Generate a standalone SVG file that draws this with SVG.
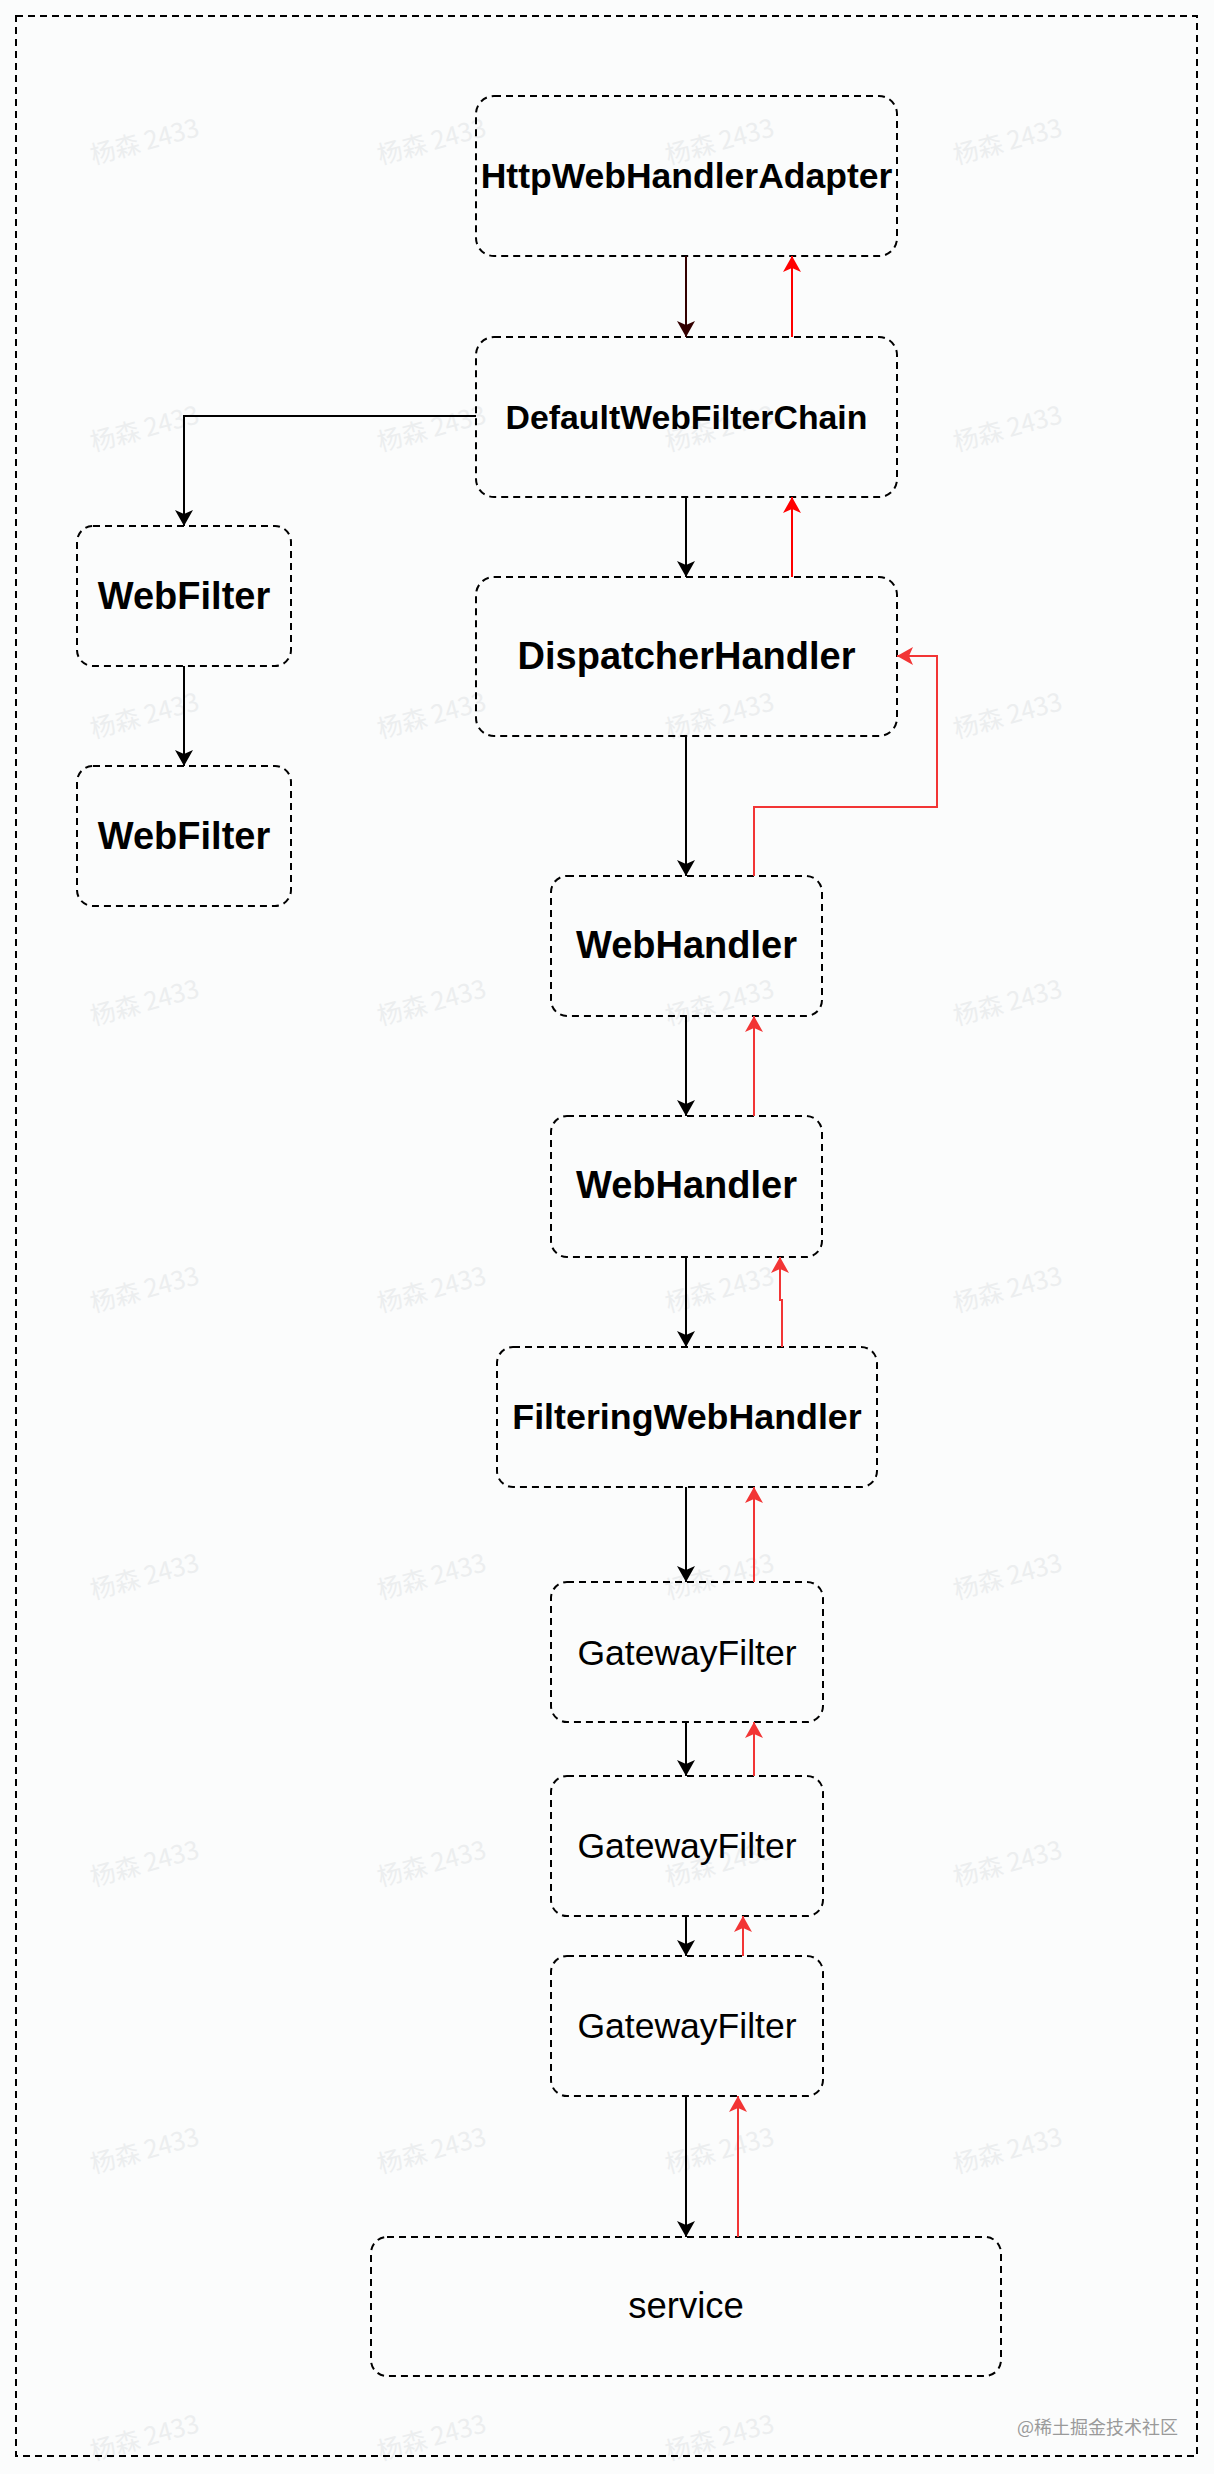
<svg xmlns="http://www.w3.org/2000/svg" width="1214" height="2474" viewBox="0 0 1214 2474">
<style>
.box{fill:none;stroke:#000;stroke-width:2;stroke-dasharray:7 5}
.b{font-family:"Liberation Sans",Arial,sans-serif;font-weight:bold;fill:#000;text-anchor:middle}
.r{font-family:"Liberation Sans",Arial,sans-serif;fill:#000;text-anchor:middle}
.wm{font-family:"Noto Sans CJK SC","Liberation Sans",sans-serif;font-size:25px;fill:#eceeef;text-anchor:middle}
.k{fill:none;stroke:#000;stroke-width:2;marker-end:url(#ak)}
.kd{fill:none;stroke:#330000;stroke-width:2;marker-end:url(#akd)}
.rd{fill:none;stroke:#ff0000;stroke-width:2;marker-end:url(#ard)}
.rl{fill:none;stroke:#f23535;stroke-width:2;marker-end:url(#arl)}
</style>
<defs>
<marker id="ak" viewBox="0 0 16 18" refX="16" refY="9" markerWidth="16" markerHeight="18" markerUnits="userSpaceOnUse" orient="auto"><path d="M16,9 L0,0 L4,9 L0,18 Z" fill="#000"/></marker>
<marker id="akd" viewBox="0 0 16 18" refX="16" refY="9" markerWidth="16" markerHeight="18" markerUnits="userSpaceOnUse" orient="auto"><path d="M16,9 L0,0 L4,9 L0,18 Z" fill="#330000"/></marker>
<marker id="ard" viewBox="0 0 16 18" refX="16" refY="9" markerWidth="16" markerHeight="18" markerUnits="userSpaceOnUse" orient="auto"><path d="M16,9 L0,0 L4,9 L0,18 Z" fill="#ff0000"/></marker>
<marker id="arl" viewBox="0 0 16 18" refX="16" refY="9" markerWidth="16" markerHeight="18" markerUnits="userSpaceOnUse" orient="auto"><path d="M16,9 L0,0 L4,9 L0,18 Z" fill="#f23535"/></marker>
</defs>
<rect x="0" y="0" width="1214" height="2474" fill="#fbfcfc"/>
<g id="watermarks">
<text class="wm" transform="translate(147,150) rotate(-15)">杨森 2433</text>
<text class="wm" transform="translate(434,150) rotate(-15)">杨森 2433</text>
<text class="wm" transform="translate(722,150) rotate(-15)">杨森 2433</text>
<text class="wm" transform="translate(1010,150) rotate(-15)">杨森 2433</text>
<text class="wm" transform="translate(147,437) rotate(-15)">杨森 2433</text>
<text class="wm" transform="translate(434,437) rotate(-15)">杨森 2433</text>
<text class="wm" transform="translate(722,437) rotate(-15)">杨森 2433</text>
<text class="wm" transform="translate(1010,437) rotate(-15)">杨森 2433</text>
<text class="wm" transform="translate(147,724) rotate(-15)">杨森 2433</text>
<text class="wm" transform="translate(434,724) rotate(-15)">杨森 2433</text>
<text class="wm" transform="translate(722,724) rotate(-15)">杨森 2433</text>
<text class="wm" transform="translate(1010,724) rotate(-15)">杨森 2433</text>
<text class="wm" transform="translate(147,1011) rotate(-15)">杨森 2433</text>
<text class="wm" transform="translate(434,1011) rotate(-15)">杨森 2433</text>
<text class="wm" transform="translate(722,1011) rotate(-15)">杨森 2433</text>
<text class="wm" transform="translate(1010,1011) rotate(-15)">杨森 2433</text>
<text class="wm" transform="translate(147,1298) rotate(-15)">杨森 2433</text>
<text class="wm" transform="translate(434,1298) rotate(-15)">杨森 2433</text>
<text class="wm" transform="translate(722,1298) rotate(-15)">杨森 2433</text>
<text class="wm" transform="translate(1010,1298) rotate(-15)">杨森 2433</text>
<text class="wm" transform="translate(147,1585) rotate(-15)">杨森 2433</text>
<text class="wm" transform="translate(434,1585) rotate(-15)">杨森 2433</text>
<text class="wm" transform="translate(722,1585) rotate(-15)">杨森 2433</text>
<text class="wm" transform="translate(1010,1585) rotate(-15)">杨森 2433</text>
<text class="wm" transform="translate(147,1872) rotate(-15)">杨森 2433</text>
<text class="wm" transform="translate(434,1872) rotate(-15)">杨森 2433</text>
<text class="wm" transform="translate(722,1872) rotate(-15)">杨森 2433</text>
<text class="wm" transform="translate(1010,1872) rotate(-15)">杨森 2433</text>
<text class="wm" transform="translate(147,2159) rotate(-15)">杨森 2433</text>
<text class="wm" transform="translate(434,2159) rotate(-15)">杨森 2433</text>
<text class="wm" transform="translate(722,2159) rotate(-15)">杨森 2433</text>
<text class="wm" transform="translate(1010,2159) rotate(-15)">杨森 2433</text>
<text class="wm" transform="translate(147,2446) rotate(-15)">杨森 2433</text>
<text class="wm" transform="translate(434,2446) rotate(-15)">杨森 2433</text>
<text class="wm" transform="translate(722,2446) rotate(-15)">杨森 2433</text>
</g>
<g id="frame"><rect class="box" x="16" y="16" width="1181" height="2440"/></g>
<g id="n-http"><rect class="box" x="476" y="96" width="421" height="160" rx="18"/><text class="b" x="686.5" y="188" font-size="35.5">HttpWebHandlerAdapter</text></g>
<g id="n-chain"><rect class="box" x="476" y="337" width="421" height="160" rx="18"/><text class="b" x="686.5" y="429" font-size="33.8">DefaultWebFilterChain</text></g>
<g id="n-dispatcher"><rect class="box" x="476" y="577" width="421" height="159" rx="18"/><text class="b" x="686.5" y="669" font-size="38">DispatcherHandler</text></g>
<g id="n-webfilter1"><rect class="box" x="77" y="526" width="214" height="140" rx="16"/><text class="b" x="184" y="609" font-size="38">WebFilter</text></g>
<g id="n-webfilter2"><rect class="box" x="77" y="766" width="214" height="140" rx="16"/><text class="b" x="184" y="849" font-size="38">WebFilter</text></g>
<g id="n-webhandler1"><rect class="box" x="551" y="876" width="271" height="140" rx="16"/><text class="b" x="686.5" y="958" font-size="38">WebHandler</text></g>
<g id="n-webhandler2"><rect class="box" x="551" y="1116" width="271" height="141" rx="16"/><text class="b" x="686.5" y="1198" font-size="38">WebHandler</text></g>
<g id="n-filtering"><rect class="box" x="497" y="1347" width="380" height="140" rx="16"/><text class="b" x="687" y="1429" font-size="35.8">FilteringWebHandler</text></g>
<g id="n-gf1"><rect class="box" x="551" y="1582" width="272" height="140" rx="16"/><text class="r" x="687" y="1665" font-size="35.5">GatewayFilter</text></g>
<g id="n-gf2"><rect class="box" x="551" y="1776" width="272" height="140" rx="16"/><text class="r" x="687" y="1858" font-size="35.5">GatewayFilter</text></g>
<g id="n-gf3"><rect class="box" x="551" y="1956" width="272" height="140" rx="16"/><text class="r" x="687" y="2038" font-size="35.5">GatewayFilter</text></g>
<g id="n-service"><rect class="box" x="371" y="2237" width="630" height="139" rx="16"/><text class="r" x="686" y="2318" font-size="36.5">service</text></g>
<g id="connectors">
<path class="kd" d="M686,256 L686,337"/>
<path class="k" d="M686,497 L686,577"/>
<path class="k" d="M476,416 L184,416 L184,526"/>
<path class="k" d="M184,666 L184,766"/>
<path class="k" d="M686,736 L686,876"/>
<path class="k" d="M686,1016 L686,1116"/>
<path class="k" d="M686,1257 L686,1347"/>
<path class="k" d="M686,1487 L686,1582"/>
<path class="k" d="M686,1722 L686,1776"/>
<path class="k" d="M686,1916 L686,1956"/>
<path class="k" d="M686,2096 L686,2237"/>
<path class="rd" d="M792,337 L792,256"/>
<path class="rd" d="M792,577 L792,497"/>
<path class="rl" d="M754,876 L754,807 L937,807 L937,656 L897,656"/>
<path class="rl" d="M754,1116 L754,1016"/>
<path class="rl" d="M782,1347 L782,1300 L780,1300 L780,1257"/>
<path class="rl" d="M754,1582 L754,1487"/>
<path class="rl" d="M754,1776 L754,1722"/>
<path class="rl" d="M743,1956 L743,1916"/>
<path class="rl" d="M738,2237 L738,2096"/>
</g>
<text x="1178" y="2434" font-family="Noto Sans CJK SC, Liberation Sans, sans-serif" font-size="18" fill="#9a9a9a" text-anchor="end">@稀土掘金技术社区</text>
</svg>
